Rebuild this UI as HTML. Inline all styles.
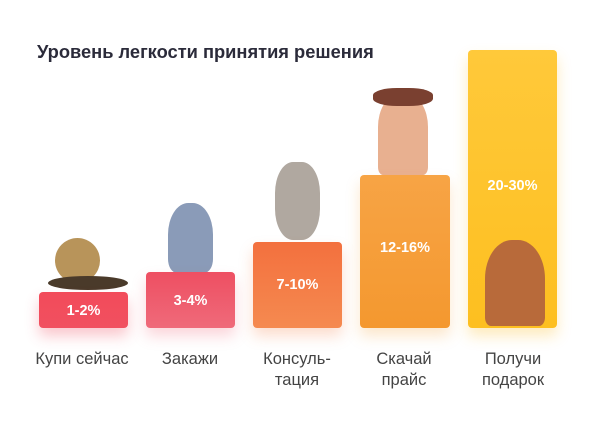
<!DOCTYPE html>
<html><head><meta charset="utf-8"><style>
body{margin:0;width:600px;height:428px;background:#fff;position:relative;overflow:hidden;font-family:"Liberation Sans",sans-serif}
.t{position:absolute;left:37px;top:41px;font-size:18.3px;font-weight:bold;color:#2b2b3a}
.b{position:absolute;border-radius:4px;color:#fff;font-weight:bold;font-size:14.5px;text-align:center}
.l{position:absolute;width:120px;text-align:center;font-size:16.5px;color:#444;line-height:21px}
.blob{position:absolute;border-radius:50%}
</style></head><body>
<div class="t">Уровень легкости принятия решения</div>
<div class="blob" style="left:55px;top:238px;width:45px;height:45px;background:#b8945a"></div>
<div class="blob" style="left:48px;top:276px;width:80px;height:14px;background:#4a3a2a"></div>
<div class="blob" style="left:168px;top:203px;width:45px;height:70px;background:#8a9bb8;border-radius:45% 45% 20% 20%"></div>
<div class="blob" style="left:275px;top:162px;width:45px;height:78px;background:#b0a8a0;border-radius:40%"></div>
<div class="blob" style="left:378px;top:95px;width:50px;height:80px;background:#e8b090;border-radius:40% 40% 10% 10%"></div>
<div class="blob" style="left:373px;top:88px;width:60px;height:18px;background:#7a4030;border-radius:40%"></div>
<div class="b" style="left:39px;top:292px;width:89px;height:36px;background:linear-gradient(#f24b5a,#f15060);box-shadow:0 8px 14px rgba(240,70,90,.3)"><div style="margin-top:11px">1-2%</div></div>
<div class="b" style="left:146px;top:272px;width:89px;height:56px;background:linear-gradient(#ee4f62,#ef6a7a);box-shadow:0 8px 14px rgba(240,90,110,.25)"><div style="margin-top:21px">3-4%</div></div>
<div class="b" style="left:253px;top:242px;width:89px;height:86px;background:linear-gradient(#f3703e,#f58a50);box-shadow:0 8px 14px rgba(245,120,60,.25)"><div style="margin-top:35px">7-10%</div></div>
<div class="b" style="left:360px;top:175px;width:90px;height:153px;background:linear-gradient(#f7a445,#f4982f);box-shadow:0 8px 14px rgba(245,160,50,.25)"><div style="margin-top:65px">12-16%</div></div>
<div class="b" style="left:468px;top:50px;width:89px;height:278px;background:linear-gradient(#ffc93a,#fdbf20);box-shadow:0 8px 14px rgba(253,190,40,.3)"><div style="margin-top:128px">20-30%</div></div>
<div class="blob" style="left:485px;top:240px;width:60px;height:86px;background:#b86a3a;border-radius:45% 45% 10% 10%"></div>
<div class="l" style="left:22px;top:349px">Купи сейчас</div>
<div class="l" style="left:130px;top:349px">Закажи</div>
<div class="l" style="left:237px;top:349px">Консуль-<br>тация</div>
<div class="l" style="left:344px;top:349px">Скачай<br>прайс</div>
<div class="l" style="left:453px;top:349px">Получи<br>подарок</div>
</body></html>
